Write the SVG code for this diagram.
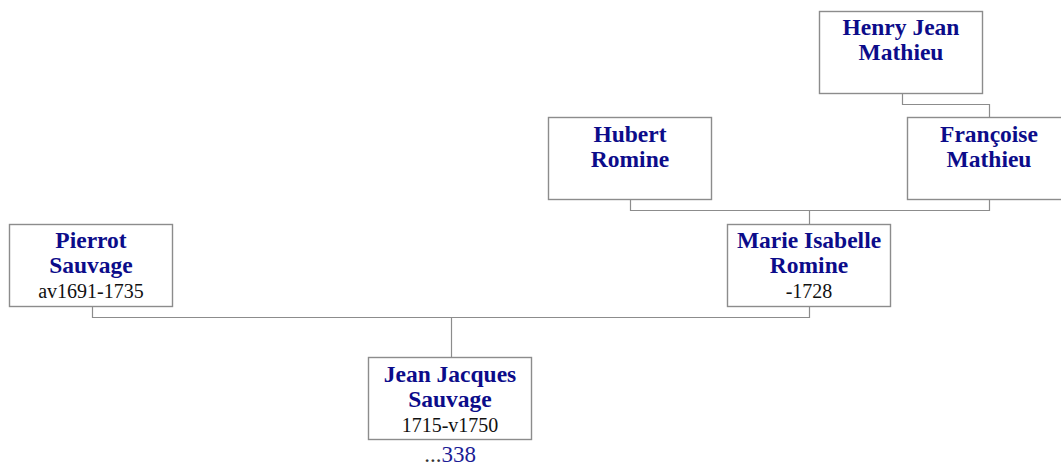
<svg xmlns="http://www.w3.org/2000/svg" width="1061" height="466" viewBox="0 0 1061 466">
<style>
.box{fill:#fff;stroke:#8c8c8c;stroke-width:1.4}
.nm{font-family:"Liberation Serif","Times New Roman",serif;font-weight:bold;font-size:23.5px;fill:#0c0c8a;text-anchor:middle}
.dt{font-family:"Liberation Serif","Times New Roman",serif;font-size:20px;fill:#111;text-anchor:middle}
.lk{font-family:"Liberation Serif","Times New Roman",serif;font-size:23px;fill:#1c1c96;text-anchor:middle}
.cn{fill:none;stroke:#8c8c8c;stroke-width:1.2}
</style>
<rect width="1061" height="466" fill="#fff"/>
<g id="connectors">
<path class="cn" d="M902.5 94 V104.5 H989.5 V117.5"/>
<path class="cn" d="M630.5 200 V210.5 H989.5 V200"/>
<path class="cn" d="M809.5 210.5 V224.5"/>
<path class="cn" d="M92.5 307 V317.5 H809.5 V307"/>
<path class="cn" d="M451.5 317.5 V357.5"/>
</g>
<g id="henry">
<rect class="box" x="819.5" y="11.5" width="163" height="82"/>
<text class="nm" x="901" y="35">Henry Jean</text>
<text class="nm" x="901" y="60">Mathieu</text>
</g>
<g id="hubert">
<rect class="box" x="548.5" y="117.5" width="163" height="82"/>
<text class="nm" x="630" y="142">Hubert</text>
<text class="nm" x="630" y="167">Romine</text>
</g>
<g id="francoise">
<rect class="box" x="907.5" y="117.5" width="163" height="82"/>
<text class="nm" x="989" y="142">Françoise</text>
<text class="nm" x="989" y="167">Mathieu</text>
</g>
<g id="pierrot">
<rect class="box" x="9.5" y="224.5" width="163" height="82"/>
<text class="nm" x="91" y="248">Pierrot</text>
<text class="nm" x="91" y="272.5">Sauvage</text>
<text class="dt" x="91" y="297.5">av1691-1735</text>
</g>
<g id="marie">
<rect class="box" x="727.5" y="224.5" width="163" height="82"/>
<text class="nm" x="809" y="248">Marie Isabelle</text>
<text class="nm" x="809" y="272.5">Romine</text>
<text class="dt" x="809" y="297.5">-1728</text>
</g>
<g id="jeanjacques">
<rect class="box" x="368.5" y="357.5" width="163" height="82"/>
<text class="nm" x="450" y="382">Jean Jacques</text>
<text class="nm" x="450" y="406.5">Sauvage</text>
<text class="dt" x="450" y="431.5">1715-v1750</text>
<text class="lk" x="450" y="461.5"><tspan fill="#333">...</tspan>338</text>
</g>
</svg>
